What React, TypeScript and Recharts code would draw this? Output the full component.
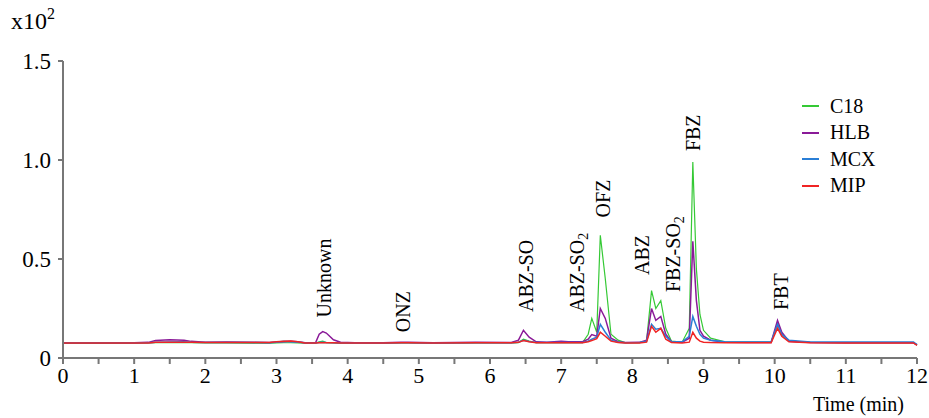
import { LineChart, Line, XAxis, YAxis, ReferenceDot } from "recharts";

const FONT = "'Liberation Serif', 'Times New Roman', serif";

// retention time (min)
const times = [
  0, 0.5, 1.0, 1.2, 1.3, 1.5, 1.7, 1.8, 2.0, 2.3, 2.6, 2.9, 3.0, 3.1, 3.2, 3.3, 3.4, 3.55, 3.6, 3.65,
  3.7, 3.8, 3.9, 4.1, 4.5, 4.75, 4.85, 5.2, 5.8, 6.3, 6.4, 6.47, 6.55, 6.65, 6.8, 7.0, 7.1, 7.3, 7.38,
  7.43, 7.5, 7.55, 7.62, 7.7, 7.8, 7.9, 8.1, 8.2, 8.27, 8.33, 8.4, 8.47, 8.55, 8.7, 8.8, 8.85, 8.9,
  8.95, 9.0, 9.1, 9.3, 9.6, 9.95, 10.04, 10.1, 10.2, 10.5, 11.0, 11.5, 11.95, 12.0,
];

// intensity (x10^2)
const c18 = [
  0.074, 0.074, 0.075, 0.076, 0.077, 0.078, 0.078, 0.077, 0.076, 0.076, 0.075, 0.075, 0.076, 0.077,
  0.077, 0.076, 0.075, 0.075, 0.082, 0.085, 0.078, 0.076, 0.075, 0.075, 0.075, 0.076, 0.076, 0.075,
  0.076, 0.076, 0.078, 0.095, 0.085, 0.077, 0.077, 0.078, 0.078, 0.078, 0.12, 0.2, 0.13, 0.62, 0.4,
  0.12, 0.09, 0.078, 0.078, 0.085, 0.34, 0.25, 0.29, 0.15, 0.085, 0.08, 0.15, 0.99, 0.45, 0.22, 0.14,
  0.1, 0.082, 0.08, 0.08, 0.17, 0.12, 0.085, 0.079, 0.078, 0.078, 0.078, 0.065,
];
const hlb = [
  0.077, 0.077, 0.077, 0.079, 0.088, 0.092, 0.09, 0.084, 0.08, 0.081, 0.08, 0.078, 0.081, 0.082,
  0.084, 0.082, 0.077, 0.078, 0.12, 0.133, 0.126, 0.092, 0.08, 0.077, 0.077, 0.08, 0.079, 0.077,
  0.079, 0.078, 0.09, 0.14, 0.105, 0.082, 0.08, 0.084, 0.082, 0.082, 0.095, 0.118, 0.11, 0.25, 0.2,
  0.1, 0.082, 0.078, 0.079, 0.09, 0.25, 0.19, 0.21, 0.12, 0.082, 0.08, 0.1, 0.59, 0.29, 0.14, 0.11,
  0.09, 0.08, 0.078, 0.078, 0.19, 0.13, 0.085, 0.078, 0.077, 0.077, 0.077, 0.066,
];
const mcx = [
  0.077, 0.077, 0.077, 0.077, 0.08, 0.081, 0.082, 0.08, 0.078, 0.078, 0.078, 0.077, 0.08, 0.084,
  0.082, 0.079, 0.077, 0.076, 0.078, 0.079, 0.078, 0.077, 0.076, 0.076, 0.076, 0.077, 0.077, 0.076,
  0.077, 0.077, 0.08, 0.09, 0.083, 0.078, 0.078, 0.078, 0.078, 0.078, 0.085, 0.095, 0.105, 0.17,
  0.13, 0.09, 0.08, 0.077, 0.078, 0.085, 0.17, 0.145, 0.15, 0.11, 0.082, 0.082, 0.11, 0.21, 0.16,
  0.12, 0.1, 0.09, 0.082, 0.081, 0.081, 0.17, 0.12, 0.09, 0.081, 0.081, 0.081, 0.081, 0.068,
];
const mip = [
  0.076, 0.076, 0.076, 0.076, 0.079, 0.08, 0.08, 0.079, 0.078, 0.078, 0.078, 0.078, 0.082, 0.085,
  0.086, 0.082, 0.076, 0.076, 0.077, 0.077, 0.077, 0.077, 0.076, 0.076, 0.076, 0.077, 0.077, 0.076,
  0.077, 0.077, 0.079, 0.088, 0.082, 0.077, 0.077, 0.077, 0.077, 0.077, 0.082, 0.088, 0.098, 0.13,
  0.11, 0.085, 0.078, 0.076, 0.076, 0.08, 0.16, 0.13, 0.15, 0.095, 0.078, 0.076, 0.08, 0.13, 0.1,
  0.085, 0.08, 0.078, 0.077, 0.077, 0.077, 0.15, 0.11, 0.082, 0.077, 0.076, 0.076, 0.076, 0.064,
];

const xTicks = [0, 0.5, 1, 1.5, 2, 2.5, 3, 3.5, 4, 4.5, 5, 5.5, 6, 6.5, 7, 7.5, 8, 8.5, 9, 9.5, 10, 10.5, 11, 11.5, 12];
const yTicks = [0, 0.5, 1, 1.5];

const peakNames = ["Unknown", "ONZ", "ABZ-SO", "ABZ-SO", "OFZ", "ABZ", "FBZ-SO", "FBZ", "FBT"];
const peakSubs = ["", "", "", "2", "", "", "2", "", ""];
const peakTimes = [3.67, 4.78, 6.51, 7.22, 7.59, 8.14, 8.57, 8.85, 10.09];
const peakLevels = [0.205, 0.13, 0.232, 0.232, 0.71, 0.419, 0.333, 1.045, 0.242];

const series = [
  { key: "C18", values: c18, color: "#35c935", width: 1.2 },
  { key: "HLB", values: hlb, color: "#8a1a98", width: 1.5 },
  { key: "MCX", values: mcx, color: "#2a7ed6", width: 1.5 },
  { key: "MIP", values: mip, color: "#f02424", width: 1.5 },
];

const data = times.map((t, i) => {
  const row: Record<string, number> = { t };
  series.forEach((s) => (row[s.key] = s.values[i]));
  return row;
});

function peakLabel(name: string, sub: string) {
  return (props: any) => {
    const vb = props.viewBox || {};
    const cx = (vb.x ?? 0) + (vb.width ?? 0) / 2;
    const cy = (vb.y ?? 0) + (vb.height ?? 0) / 2;
    return (
      <text
        transform={`translate(${cx},${cy}) rotate(-90)`}
        fontFamily={FONT}
        fontSize={20}
        fill="#000"
        textAnchor="start"
        dominantBaseline="central"
      >
        <tspan>{name}</tspan>
        {sub ? (
          <tspan dy={6} fontSize={14}>
            {sub}
          </tspan>
        ) : null}
      </text>
    );
  };
}

function XTick(props: any) {
  const v = props.payload?.value;
  if (!Number.isInteger(v)) return null;
  return (
    <text x={props.x} y={props.y} dy="0.71em" textAnchor="middle" fontFamily={FONT} fontSize={22} fill="#000">
      {String(v)}
    </text>
  );
}

function YTick(props: any) {
  const v = props.payload?.value;
  return (
    <text x={props.x} y={props.y} dy="0.355em" textAnchor="end" fontFamily={FONT} fontSize={23} fill="#000">
      {v === 0 ? "0" : v.toFixed(1)}
    </text>
  );
}

function LegendBox() {
  return (
    <div style={{ position: "absolute", left: 802, top: 93, fontFamily: FONT, fontSize: 20, color: "#000" }}>
      {series.map((s) => (
        <div key={s.key} style={{ display: "flex", alignItems: "center", height: 26.5 }}>
          <span style={{ display: "inline-block", width: 17, height: 2, background: s.color, marginRight: 11 }} />
          <span>{s.key}</span>
        </div>
      ))}
    </div>
  );
}

export default function App() {
  return (
    <div style={{ position: "absolute", left: 0, top: 0, width: 929, height: 418, background: "#fff", fontFamily: FONT }}>
      <LineChart width={929} height={418} data={data} margin={{ top: 61, right: 12, left: 8, bottom: 30 }}>
        <XAxis
          dataKey="t"
          type="number"
          domain={[0, 12]}
          ticks={xTicks}
          height={30}
          stroke="#777"
          strokeWidth={2}
          tickSize={6}
          tickMargin={3}
          tick={<XTick />}
          interval={0}
        />
        <YAxis
          type="number"
          domain={[0, 1.5]}
          ticks={yTicks}
          width={55}
          stroke="#777"
          strokeWidth={2}
          tickSize={5}
          tickMargin={7}
          tick={<YTick />}
          interval={0}
        />
        {series.map((s) => (
          <Line
            key={s.key}
            dataKey={s.key}
            type="linear"
            stroke={s.color}
            strokeWidth={s.width}
            dot={false}
            activeDot={false}
            isAnimationActive={false}
          />
        ))}
        {peakNames.map((name, i) => (
          <ReferenceDot
            key={name + i}
            x={peakTimes[i]}
            y={peakLevels[i]}
            r={0}
            fill="none"
            stroke="none"
            label={peakLabel(name, peakSubs[i])}
          />
        ))}
      </LineChart>
      <LegendBox />
      <div style={{ position: "absolute", left: 11, top: 8, fontFamily: FONT, fontSize: 24, color: "#000" }}>
        x10<sup style={{ fontSize: 16, verticalAlign: 0, position: "relative", top: -10 }}>2</sup>
      </div>
      <div style={{ position: "absolute", left: 813, top: 393, fontFamily: FONT, fontSize: 20, color: "#000" }}>
        Time (min)
      </div>
    </div>
  );
}
